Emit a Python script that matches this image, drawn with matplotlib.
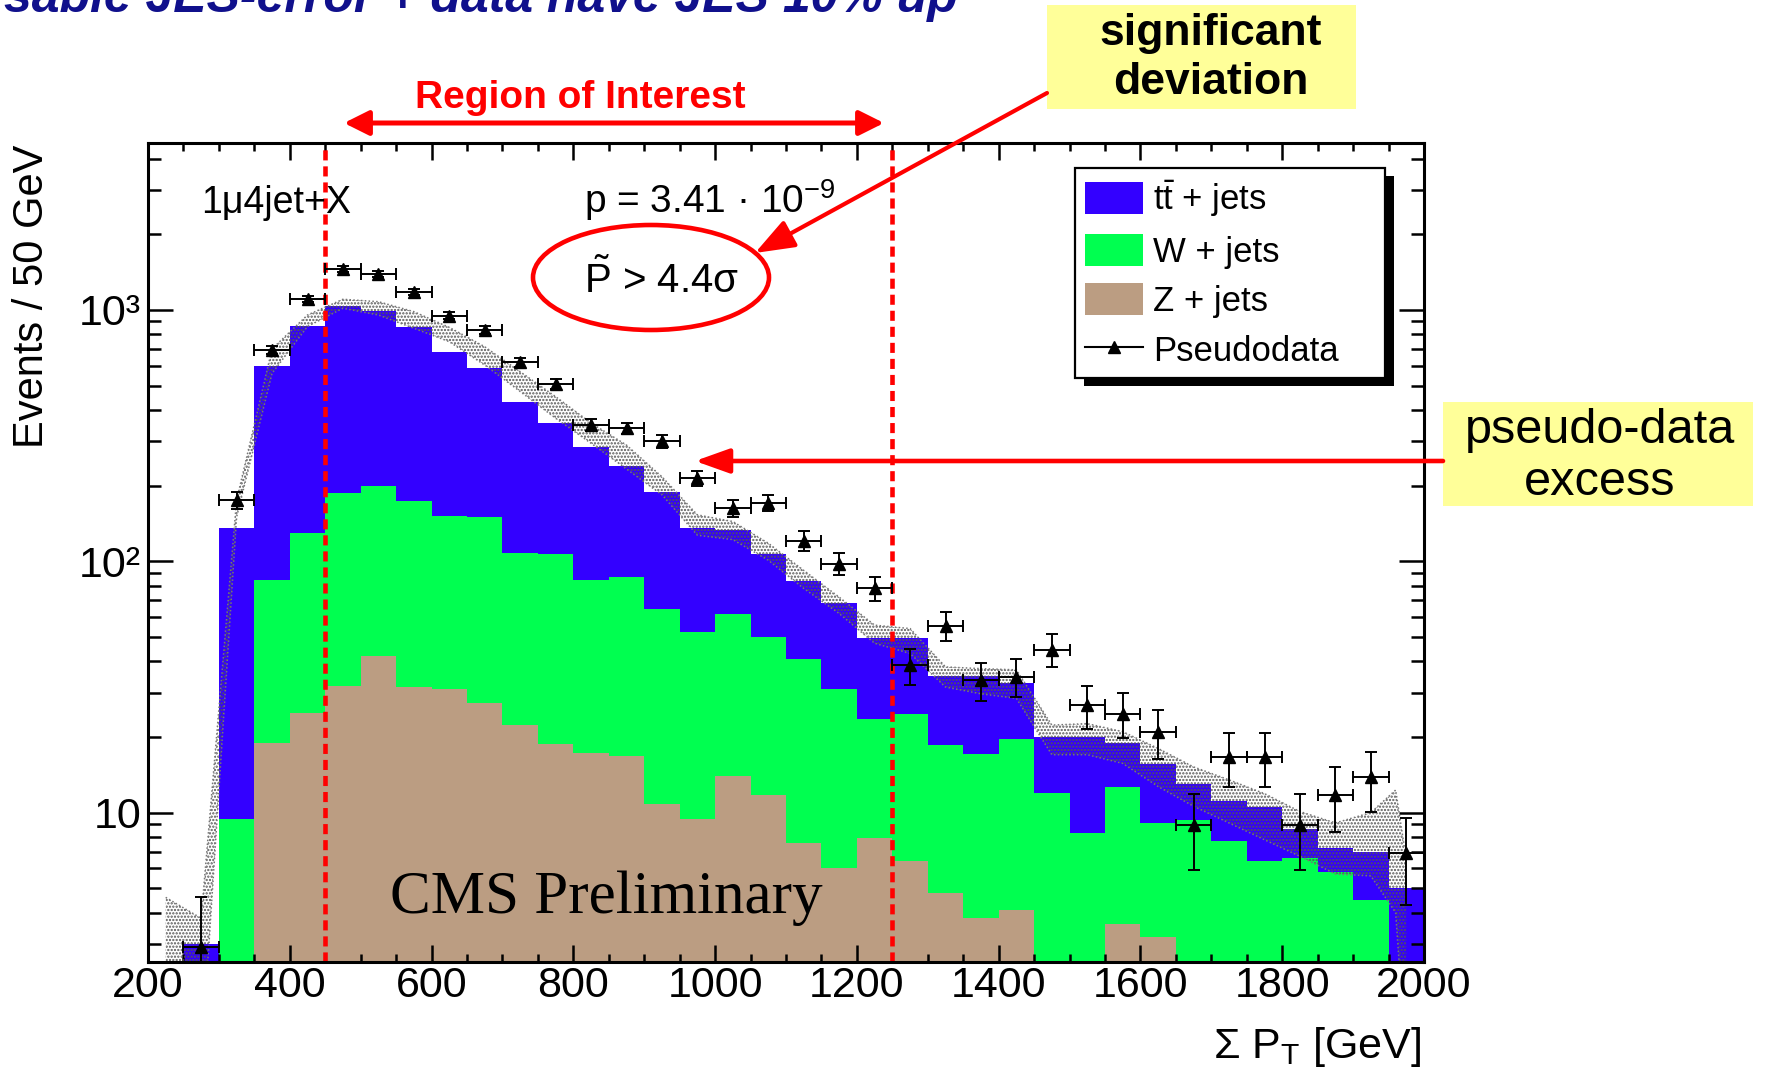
import numpy as np
import matplotlib
matplotlib.use("Agg")
import matplotlib.pyplot as plt
from matplotlib.patches import Patch, Rectangle, Ellipse, FancyArrowPatch
from matplotlib.lines import Line2D
from matplotlib.ticker import (FixedLocator, FixedFormatter, MultipleLocator,
                               LogLocator, NullFormatter)

plt.rcParams['font.family'] = ['Liberation Sans', 'DejaVu Sans']
plt.rcParams['mathtext.fontset'] = 'custom'
plt.rcParams['mathtext.rm'] = 'Liberation Sans'
plt.rcParams['mathtext.it'] = 'Liberation Sans:italic'
plt.rcParams['mathtext.bf'] = 'Liberation Sans:bold'
plt.rcParams['mathtext.sf'] = 'Liberation Sans'
plt.rcParams['hatch.linewidth'] = 1.1

# ---------------- data ----------------
bin_edges = np.arange(250, 2001, 50)          # Sum PT bins, 50 GeV wide
ttbar = [3.0, 126.6, 515, 734, 850, 795, 679, 526, 437, 321,
         249, 201, 153, 123.6, 84, 71.4, 57.1, 42.7, 37.4, 25.9,
         24.8, 16.5, 18.0, 13.3, 8.0, 11.7, 6.3, 6.5, 3.65, 3.4,
         4.1, 2.0, 1.4, 2.5, 5.0]
wjets = [0, 9.4, 65, 105, 155, 157, 142, 121, 122, 85.6,
         88.3, 66.7, 70, 53.6, 42.7, 47.6, 38.2, 33.3, 25, 15.6,
         18.4, 13.8, 13.3, 15.5, 12.0, 8.3, 9.0, 5.9, 9.35, 7.7,
         6.4, 6.6, 5.8, 4.5, 0]
zjets = [0, 0, 19.0, 25.0, 32.0, 42.1, 31.6, 31.0, 27.4, 22.4,
         18.7, 17.3, 16.8, 10.8, 9.4, 14.0, 11.7, 7.6, 6.0, 7.9,
         6.4, 4.8, 3.8, 4.1, 0, 0, 3.6, 3.2, 0, 0,
         0, 0, 0, 0, 0]
pseudodata = [2.93, 175, 693, 1106, 1452, 1391, 1176, 949, 832, 620,
              508, 348, 338, 301, 214, 163, 171, 121, 98, 78,
              38.5, 55.5, 33.6, 34.8, 44.5, 26.8, 24.8, 20.9, 8.9, 16.7,
              16.7, 8.9, 11.8, 13.8, 6.9]
pseudodata_err = [1.7, 13, 26, 33, 38, 37, 34, 31, 29, 25,
                  22.5, 18.7, 18.4, 17.3, 14.6, 12.8, 13.1, 11, 9.9, 8.8,
                  6.2, 7.5, 5.8, 5.9, 6.7, 5.2, 5.0, 4.6, 3.0, 4.1,
                  4.1, 3.0, 3.4, 3.7, 2.6]
# JES uncertainty band
band_x = [225, 275, 325, 375, 425, 475, 525, 575, 625, 675, 725, 775, 825,
          875, 925, 975, 1025, 1075, 1125, 1175, 1225, 1275, 1325, 1375,
          1425, 1475, 1525, 1575, 1625, 1675, 1725, 1775, 1825, 1875, 1925,
          1960, 1975]
band_hi = [4.6, 3.8, 175, 700, 955, 1103, 1079, 985, 853, 714, 568, 452, 355,
           290, 217, 153, 144, 118, 92, 72, 55.7, 54, 38, 37.4,
           37, 22.3, 22.6, 21, 18, 15.2, 13.5, 11.9, 10.1, 9.1, 10.0,
           12.3, 6.5]
band_lo = [1.0, 1.0, 150, 560, 860, 1016, 955, 846, 748, 604, 474, 371, 295,
           233, 184, 127, 122, 101, 78, 62, 47.2, 43, 31.6, 29.7,
           28.5, 17, 17, 15.7, 12.7, 10.6, 9.1, 7.8, 6.7, 5.7, 5.6,
           4.0, 1.0]
roi_edges = [450, 1250]
x_ticks = [200, 400, 600, 800, 1000, 1200, 1400, 1600, 1800, 2000]
y_ticks = [10, 100, 1000]
y_ticklabels = ['10', '10²', '10³']
legend_labels = [r't$\bar{\mathrm{t}}$ + jets', 'W + jets', 'Z + jets', 'Pseudodata']

BLUE = '#3300ff'
GREEN = '#00ff50'
TAN = '#bb9d82'
RED = '#ff0000'
YELLOW = '#ffff99'

WF, HF = 1768, 1070
def fx(x):
    return x / WF
def fy(y):
    return 1 - y / HF

fig = plt.figure(figsize=(WF / 100, HF / 100), dpi=100)
ax = fig.add_axes([fx(148), fy(962), 1276 / WF, 819 / HF])
ax.set_yscale('log')

# ---------------- stacked histogram ----------------
z = np.array(zjets, float)
w = np.array(wjets, float)
t = np.array(ttbar, float)
floor = 1e-3
c1 = np.maximum(z, floor)
c2 = np.maximum(z + w, floor)
c3 = np.maximum(z + w + t, floor)
ax.stairs(c3, bin_edges, baseline=floor, fill=True, color=BLUE, lw=0, zorder=1)
ax.stairs(c2, bin_edges, baseline=floor, fill=True, color=GREEN, lw=0, zorder=1.1)
ax.stairs(c1, bin_edges, baseline=floor, fill=True, color=TAN, lw=0, zorder=1.2)

# ---------------- uncertainty band ----------------
ax.fill_between(band_x, band_lo, band_hi, facecolor='none', edgecolor='#555555',
                hatch='.....', linewidth=0, zorder=2)
ax.plot(band_x, band_hi, color='#777777', lw=1.1, ls=(0, (1, 1.5)), zorder=2)
ax.plot(band_x, band_lo, color='#777777', lw=1.1, ls=(0, (1, 1.5)), zorder=2)

# ---------------- region-of-interest lines ----------------
for xe in roi_edges:
    ax.axvline(xe, color=RED, lw=3.3, ls=(0, (2.2, 1.3)), zorder=4)

# ---------------- pseudodata ----------------
centers = 0.5 * (bin_edges[:-1] + bin_edges[1:])
ax.errorbar(centers, pseudodata, xerr=25, yerr=pseudodata_err, fmt='^',
            color='k', ms=8, capsize=4.5, elinewidth=1.4, capthick=1.4,
            zorder=5)

# ---------------- axes styling ----------------
ax.set_xlim(200, 2000)
ax.set_ylim(2.545, 4618)
ax.xaxis.set_major_locator(FixedLocator(x_ticks))
ax.xaxis.set_minor_locator(MultipleLocator(50))
ax.yaxis.set_major_locator(FixedLocator(y_ticks))
ax.yaxis.set_major_formatter(FixedFormatter(y_ticklabels))
ax.yaxis.set_minor_locator(LogLocator(base=10, subs=np.arange(2, 10)))
ax.yaxis.set_minor_formatter(NullFormatter())
ax.tick_params(which='both', direction='in', top=True, right=True, width=1.8)
ax.tick_params(axis='x', which='major', length=12, labelsize=31, pad=3)
ax.tick_params(axis='x', which='minor', length=6)
ax.tick_params(axis='y', which='major', length=18, labelsize=31, pad=5)
ax.tick_params(axis='y', which='minor', length=9.5)
for s in ax.spines.values():
    s.set_linewidth(2.2)
    s.set_zorder(6)

fig.text(fx(32), fy(145), 'Events / 50 GeV', rotation=90, ha='center',
         va='top', fontsize=30)
fig.text(fx(1421), fy(1058), r'Σ P$_{\mathrm{T}}$ [GeV]', ha='right',
         va='baseline', fontsize=31)

# in-plot texts
ax.text(0.0415, 0.9145, '1μ4jet+X', transform=ax.transAxes, fontsize=27,
        va='baseline', ha='left', zorder=7)
ax.text(0.3417, 0.9145, r'p = 3.41 · 10$^{-9}$', transform=ax.transAxes,
        fontsize=28, va='baseline', ha='left', zorder=7)
ax.text(0.3417, 0.8168, r'$\tilde{\mathrm{P}}$ > 4.4σ', transform=ax.transAxes,
        fontsize=29, va='baseline', ha='left', zorder=7)
ax.text(0.1897, 0.0598, 'CMS Preliminary', transform=ax.transAxes,
        fontsize=44, family='Liberation Serif', va='baseline', ha='left',
        zorder=7)

# ---------------- legend ----------------
handles = [Patch(facecolor=BLUE, edgecolor='none'),
           Patch(facecolor=GREEN, edgecolor='none'),
           Patch(facecolor=TAN, edgecolor='none'),
           Line2D([], [], color='k', marker='^', ms=8, lw=1.5)]
leg = ax.legend(handles, legend_labels, loc='upper left',
                bbox_to_anchor=(0.7265, 0.7241, 0.2429, 0.2454), mode='expand',
                fontsize=25, frameon=True, fancybox=False, edgecolor='k',
                framealpha=1, borderpad=0.3, handlelength=1.65,
                handleheight=1.05, handletextpad=0.3, labelspacing=0.42,
                borderaxespad=0)
leg.get_frame().set_linewidth(1.6)
leg.set_zorder(10)

fig.canvas.draw()
bb = leg.get_frame().get_window_extent()
inv = ax.transAxes.inverted()
(lx0, ly0), (lx1, ly1) = inv.transform([[bb.x0, bb.y0], [bb.x1, bb.y1]])
ax.add_patch(Rectangle((lx0 + 9 / 1276, ly0 - 8 / 819), lx1 - lx0, ly1 - ly0,
                       transform=ax.transAxes, facecolor='k', edgecolor='none',
                       zorder=9.5, clip_on=False))

# ---------------- slide annotations ----------------
fig.text(0.002, fy(12), 'sable JES-error + data have JES 10% up', ha='left',
         va='baseline', fontsize=36, fontweight='bold', style='italic',
         color='#10108c')

fig.text(fx(580), fy(108), 'Region of Interest', ha='center', va='baseline',
         fontsize=28, fontweight='bold', color=RED)
fig.add_artist(FancyArrowPatch((fx(344), fy(123)), (fx(884), fy(123)),
                               transform=fig.transFigure,
                               arrowstyle='<|-|>,head_length=0.6,head_width=0.3',
                               mutation_scale=25, color=RED, lw=3.6,
                               shrinkA=0, shrinkB=0))

fig.add_artist(Rectangle((fx(1047), fy(109)), 309 / WF, 104 / HF,
                         transform=fig.transFigure, facecolor=YELLOW,
                         edgecolor='none', zorder=1.5))
fig.text(fx(1211), fy(45), 'significant', ha='center', va='baseline',
         fontsize=32, fontweight='bold', zorder=3)
fig.text(fx(1211), fy(94), 'deviation', ha='center', va='baseline',
         fontsize=32, fontweight='bold', zorder=3)
fig.add_artist(FancyArrowPatch((fx(1047), fy(93)), (fx(755), fy(253)),
                               transform=fig.transFigure,
                               arrowstyle='-|>,head_length=0.8,head_width=0.3',
                               mutation_scale=30, color=RED, lw=3.0,
                               shrinkA=0, shrinkB=0, zorder=2))

fig.add_artist(Ellipse((fx(651), fy(277.5)), 236 / WF, 105 / HF,
                       transform=fig.transFigure, fill=False, edgecolor=RED,
                       lw=3.3, zorder=2))

fig.add_artist(Rectangle((fx(1443), fy(506)), 310 / WF, 104 / HF,
                         transform=fig.transFigure, facecolor=YELLOW,
                         edgecolor='none', zorder=1.5))
fig.text(fx(1600), fy(443), 'pseudo-data', ha='center', va='baseline',
         fontsize=35, zorder=3)
fig.text(fx(1600), fy(495), 'excess', ha='center', va='baseline',
         fontsize=35, zorder=3)
fig.add_artist(FancyArrowPatch((fx(1443), fy(461)), (fx(695), fy(461)),
                               transform=fig.transFigure,
                               arrowstyle='-|>,head_length=0.7,head_width=0.25',
                               mutation_scale=30, color=RED, lw=3.3,
                               shrinkA=0, shrinkB=0, zorder=2))

fig.savefig('out.png', dpi=100)
